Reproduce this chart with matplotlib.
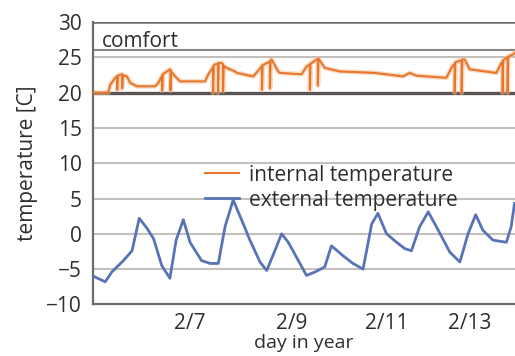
import matplotlib
matplotlib.use("Agg")
import matplotlib.pyplot as plt

plt.rcParams['font.family'] = ['Open Sans', 'DejaVu Sans']

# external temperature, time in days (Feb 5 = 5.0)
ext_day = [5.00, 5.25, 5.39, 5.63, 5.81, 5.96, 6.12, 6.26, 6.43, 6.60,
           6.73, 6.88, 7.02, 7.26, 7.44, 7.61, 7.75, 7.92, 8.10, 8.27,
           8.48, 8.62, 8.79, 8.93, 9.07, 9.24, 9.45, 9.63, 9.83, 9.97,
           10.21, 10.42, 10.63, 10.81, 10.94, 11.12, 11.33, 11.50, 11.64, 11.81,
           11.99, 12.16, 12.44, 12.65, 12.82, 12.98, 13.13, 13.34, 13.62, 13.72,
           13.79]
ext_temp = [-6.0, -6.8, -5.4, -3.8, -2.4, 2.2, 0.8, -0.7, -4.5, -6.3,
            -0.9, 2.0, -1.2, -3.8, -4.2, -4.2, 1.0, 4.8, 1.9, -0.9,
            -4.0, -5.2, -2.4, 0.0, -1.2, -3.3, -5.9, -5.4, -4.7, -1.7,
            -3.1, -4.2, -5.0, 1.4, 2.9, 0.0, -1.2, -2.1, -2.4, 1.0,
            3.1, 1.0, -2.6, -4.0, 0.0, 2.7, 0.5, -0.9, -1.2, 1.0,
            4.3]

# internal temperature (the drops are heating cycles / door openings)
int_day = [5.000, 5.313, 5.354, 5.458, 5.500, 5.500, 5.513, 5.598, 5.604, 5.604,
           5.617, 5.702, 5.771, 5.910, 6.292, 6.360, 6.431, 6.438, 6.438, 6.450,
           6.604, 6.613, 6.613, 6.625, 6.708, 6.813, 7.333, 7.402, 7.500, 7.500,
           7.513, 7.542, 7.604, 7.604, 7.617, 7.681, 7.708, 7.708, 7.721, 7.785,
           7.958, 7.994, 8.340, 8.515, 8.521, 8.521, 8.533, 8.688, 8.688, 8.700,
           8.723, 8.860, 8.896, 9.348, 9.452, 9.521, 9.521, 9.533, 9.688, 9.688,
           9.700, 9.833, 10.146, 10.875, 11.465, 11.604, 11.744, 12.369, 12.473, 12.542,
           12.542, 12.554, 12.688, 12.688, 12.700, 12.750, 12.854, 13.410, 13.515, 13.542,
           13.542, 13.554, 13.646, 13.646, 13.658, 13.756, 13.792]
int_temp = [20.0, 20.0, 21.1, 22.1, 22.3, 20.4, 22.4, 22.6, 22.6, 20.6,
            22.5, 22.3, 21.4, 20.9, 20.9, 21.4, 22.3, 22.4, 20.3, 22.6,
            23.3, 23.2, 20.3, 23.0, 22.3, 21.6, 21.6, 22.6, 23.6, 20.0,
            23.8, 24.0, 24.1, 20.0, 24.2, 24.2, 24.0, 20.2, 23.8, 23.5,
            23.0, 22.8, 22.3, 23.7, 23.8, 20.4, 23.9, 24.4, 20.6, 24.5,
            24.7, 23.0, 22.8, 22.6, 23.7, 24.0, 20.4, 24.1, 24.8, 21.0,
            24.8, 23.5, 23.0, 22.8, 22.3, 22.8, 22.4, 22.1, 23.5, 24.1,
            20.0, 24.3, 24.6, 20.0, 24.7, 24.7, 23.3, 22.8, 24.2, 24.4,
            20.0, 24.6, 25.0, 20.0, 25.1, 25.4, 25.6]

tick_pos = [7.02, 9.15, 11.12, 12.85]
tick_labels = ['2/7', '2/9', '2/11', '2/13']
comfort_low, comfort_high = 20, 26

txt = '#2e2e2e'

fig = plt.figure(figsize=(5.15, 3.56), dpi=100)
ax = fig.add_axes([0.181, 0.145, 0.819, 0.793])

for y in [-5, 0, 5, 10, 15, 25]:
    ax.axhline(y, color='#c4c0bc', lw=1.5, zorder=1)
ax.axhline(comfort_high, color='#8a8582', lw=1.5, zorder=1)
ax.axhline(30, color='#6e6a68', lw=1.8, zorder=1)
ax.axhline(comfort_low, color='#5a5552', lw=2.4, zorder=1)

ax.plot(int_day, int_temp, color='#f6b98a', lw=3.5, alpha=0.5, zorder=2)
ax.plot(int_day, int_temp, color='#e8772e', lw=1.5, zorder=3,
        label='internal temperature')
ax.plot(ext_day, ext_temp, color='#5874b6', lw=2.0, zorder=3,
        label='external temperature')

ax.text(5.19, 26.45, 'comfort', fontsize=15, color=txt, va='baseline')

ax.set_xlim(5.0, 13.8)
ax.set_ylim(-10, 30)
ax.set_yticks(range(-10, 31, 5))
ax.set_xticks(tick_pos)
ax.set_xticklabels(tick_labels)
ax.tick_params(length=0, labelsize=15, colors=txt)
ax.tick_params(axis='y', pad=8)
ax.tick_params(axis='x', pad=6)
ax.set_ylabel('temperature [C]', fontsize=15, color=txt, labelpad=6)
ax.set_xlabel('day in year', fontsize=14, color=txt, labelpad=0)

for side in ['top', 'right']:
    ax.spines[side].set_visible(False)
for side in ['left', 'bottom']:
    ax.spines[side].set_color('#6e6a68')
    ax.spines[side].set_linewidth(1.6)

ax.legend(loc='center left', bbox_to_anchor=(0.398, 0.473),
          bbox_transform=fig.transFigure, frameon=False, fontsize=15,
          handlelength=1.65, handletextpad=0.45, labelspacing=0.2,
          borderpad=0, borderaxespad=0, labelcolor=txt)

fig.savefig('out.png', dpi=100)
